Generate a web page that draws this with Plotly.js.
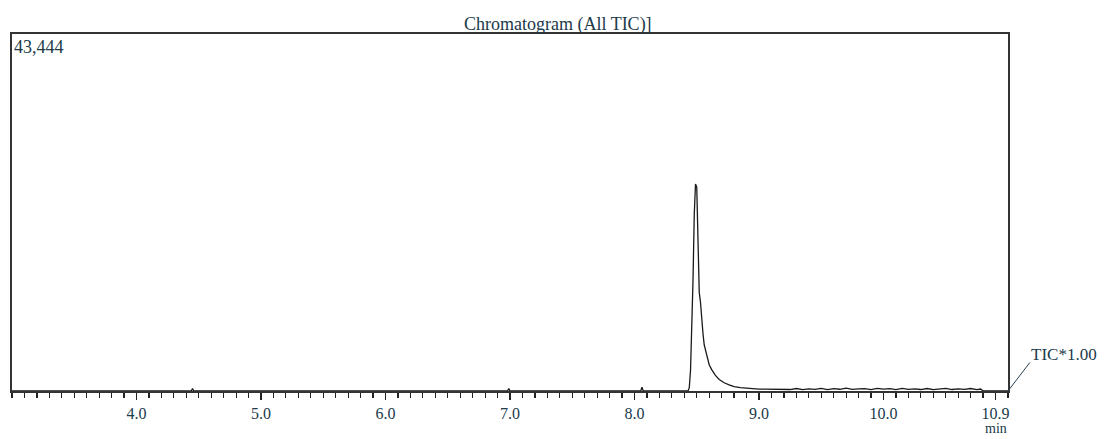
<!DOCTYPE html>
<html>
<head>
<meta charset="utf-8">
<script src="https://cdn.plot.ly/plotly-3.0.1.min.js"></script>
<style>html,body{margin:0;padding:0;background:#fff;}#chart{width:1104px;height:439px;}</style>
</head>
<body>
<div id="chart"></div>
<script>
// Retention time (min) and TIC intensity
const times = [3.00, 4.44, 4.45, 4.46, 6.98, 6.99, 7.00, 8.05, 8.06, 8.07,
  8.43, 8.44, 8.45, 8.46, 8.47, 8.48, 8.49, 8.50, 8.51, 8.52, 8.53, 8.54, 8.55, 8.56,
  8.58, 8.60, 8.62, 8.65, 8.68, 8.72, 8.76, 8.80, 8.85, 8.90, 8.95, 9.00, 9.05, 9.10,
  9.15, 9.20, 9.25, 9.30, 9.35, 9.40, 9.45, 9.50, 9.55, 9.60, 9.65, 9.70, 9.75, 9.80,
  9.85, 9.90, 9.95, 10.00, 10.05, 10.10, 10.15, 10.20, 10.25, 10.30, 10.35, 10.40,
  10.45, 10.50, 10.55, 10.60, 10.65, 10.70, 10.75, 10.78, 10.80, 11.00];
const intensity = [0, 0, 300, 0, 0, 300, 0, 0, 450, 0,
  0, 400, 2500, 7000, 13500, 21500, 25200, 24800, 17000, 12000, 10800, 8600, 7000, 5600,
  4300, 3200, 2600, 1900, 1400, 1000, 750, 520, 400, 330, 280, 240, 220, 200,
  190, 230, 180, 300, 170, 260, 200, 320, 180, 280, 210, 350, 190, 260,
  300, 180, 330, 220, 290, 170, 310, 200, 260, 180, 300, 170,
  240, 330, 180, 260, 200, 300, 170, 240, 0, 0];
const tickVals = [4.0, 5.0, 6.0, 7.0, 8.0, 9.0, 10.0, 10.9];
const tickText = ["4.0", "5.0", "6.0", "7.0", "8.0", "9.0", "10.0", "10.9"];
const yMax = 43444;

const txtColor = "#203a4a";
const serif = "Liberation Serif, Times New Roman, serif";

const trace = {
  x: times, y: intensity, type: "scatter", mode: "lines",
  line: {color: "#1a1a1a", width: 1.3},
  hoverinfo: "skip"
};

const layout = {
  width: 1104, height: 439,
  margin: {l: 12, r: 96, t: 34, b: 48, pad: 0},
  paper_bgcolor: "#ffffff", plot_bgcolor: "#ffffff",
  showlegend: false,
  title: {
    text: "Chromatogram (All TIC)]",
    font: {family: serif, size: 18, color: txtColor},
    xref: "paper", x: 0.548, xanchor: "center",
    yref: "paper", y: 1, yanchor: "bottom",
    pad: {t: 0, b: 4, l: 0, r: 0}
  },
  xaxis: {
    range: [3.0, 11.0],
    tickmode: "array", tickvals: tickVals, ticktext: tickText,
    ticks: "outside", ticklen: 7, tickwidth: 1.5, tickcolor: "#222",
    tickfont: {family: serif, size: 16, color: txtColor},
    minor: {dtick: 0.1, tick0: 3.0, ticks: "outside", ticklen: 5, tickwidth: 1.2, tickcolor: "#222", showgrid: false},
    showgrid: false, zeroline: false,
    showline: true, mirror: true, linecolor: "#333", linewidth: 2
  },
  yaxis: {
    range: [0, yMax],
    showticklabels: false, ticks: "",
    showgrid: false, zeroline: false,
    showline: true, mirror: true, linecolor: "#333", linewidth: 2
  },
  shapes: [
    {type: "line", xref: "paper", yref: "paper", x0: 1.0, y0: 0, x1: 1.022, y1: 0.08,
     line: {color: "#2a4050", width: 1}}
  ],
  annotations: [
    {text: yMax.toLocaleString("en-US"), xref: "paper", yref: "paper", x: 0, y: 1,
     xanchor: "left", yanchor: "top", xshift: 0, yshift: -1, showarrow: false,
     font: {family: serif, size: 18, color: txtColor}},
    {text: "TIC*1.00", xref: "paper", yref: "paper", x: 1.021, y: 0.07,
     xanchor: "left", yanchor: "bottom", showarrow: false,
     font: {family: serif, size: 17, color: txtColor}},
    {text: "min", xref: "x", yref: "paper", x: 10.9, y: 0,
     xanchor: "center", yanchor: "bottom", yshift: -47, showarrow: false,
     font: {family: serif, size: 14, color: txtColor}}
  ]
};

Plotly.newPlot("chart", [trace], layout, {displayModeBar: false, staticPlot: true});
</script>
</body>
</html>
